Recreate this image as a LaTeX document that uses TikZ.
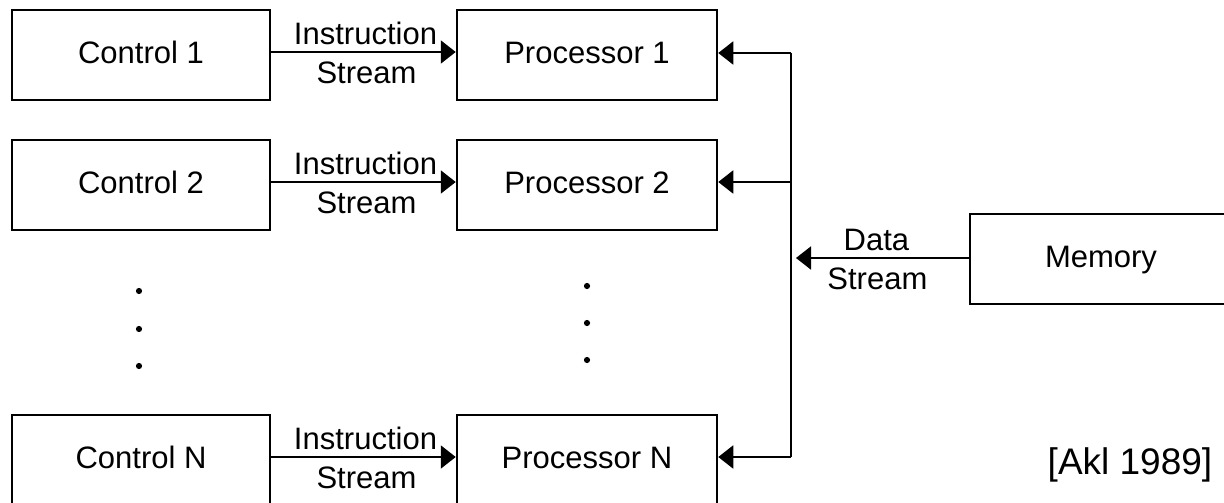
\documentclass[tikz,border=0pt]{standalone}
\usepackage{fontspec}
\setmainfont{Liberation Sans}
\usetikzlibrary{arrows.meta,calc}
\begin{document}
\begin{tikzpicture}[x=1pt,y=-1pt,
  box/.style={draw,line width=2.5pt,minimum height=90pt,inner sep=0pt,text depth=5pt,font=\fontsize{31}{36}\selectfont},
  ctl/.style={box,minimum width=258pt},
  proc/.style={box,minimum width=260pt},
  conn/.style={line width=2pt,-{Triangle[length=15pt,width=23pt]}},
  bus/.style={line width=2pt},
  lbl/.style={inner sep=0pt,font=\fontsize{31}{36}\selectfont},
  dotm/.style={fill=black}
]
\useasboundingbox (0,0) rectangle (1224,503);

% boxes
\node[ctl]  (C1) at (141,55)  {Control 1};
\node[proc] (P1) at (587,55)  {Processor 1};
\node[ctl]  (C2) at (141,185) {Control 2};
\node[proc] (P2) at (587,185) {Processor 2};
\node[ctl]  (CN) at (141,460) {Control N};
\node[proc] (PN) at (587,460) {Processor N};
\node[box,minimum width=280pt] (M) at (1110,259) {\hspace*{-18pt}Memory};

% row levels
\coordinate (r1) at (0,52);
\coordinate (r2) at (0,182);
\coordinate (rN) at (0,457);

% instruction streams
\foreach \c/\p/\r in {C1/P1/r1, C2/P2/r2, CN/PN/rN}{
  \draw[conn] (\c.east |- \r) -- (\p.west |- \r)
    node[midway,lbl,above=6pt,xshift=2pt] {Instruction}
    node[midway,lbl,below=9pt,xshift=3pt] {Stream};
}

% data bus
\coordinate (b1) at (791,53);
\coordinate (b2) at (791,182);
\coordinate (bN) at (791,457);
\coordinate (bM) at (796,258);
\draw[bus] (b1) -- (bN);
\draw[conn] (b1) -- (P1.east |- b1);
\draw[conn] (b2) -- (P2.east |- b2);
\draw[conn] (bN) -- (PN.east |- bN);
\draw[conn] (M.west |- bM) -- (bM)
  node[midway,lbl,above=6pt,xshift=-6pt] {Data}
  node[midway,lbl,below=9pt,xshift=-5pt] {Stream};

% ellipsis dots
\foreach \y in {291,329,366} \fill[dotm] (139,\y) circle (3.1pt);
\foreach \y in {286,323,360} \fill[dotm] (587,\y) circle (3.1pt);

% citation
\node[lbl,font=\fontsize{37}{42}\selectfont] (ref) at (1130,465) {[Akl 1989]};
\end{tikzpicture}
\end{document}
